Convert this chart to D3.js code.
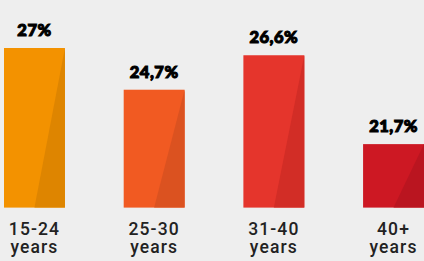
<!DOCTYPE html>
<html>
<head>
<meta charset="utf-8">
<script src="https://cdn.jsdelivr.net/npm/d3@7"></script>
<style>
  body { margin: 0; background: #eeeeee; }
  svg { display: block; }
</style>
</head>
<body>
<div id="chart"></div>
<script>
// chart data
var ageGroups = ["15-24", "25-30", "31-40", "40+"];
var shares = [27, 24.7, 26.6, 21.7];
var shareLabels = ["27%", "24,7%", "26,6%", "21,7%"];
var barColors = ["#f39200", "#f15a22", "#e5352c", "#cd1823"];
var shadeColors = ["#de8500", "#db5220", "#d22d26", "#ba1520"];

var svgWidth = 424;
var svgHeight = 261;
var baseline = 207.6;

var svg = d3.select("#chart")
  .append("svg")
  .attr("width", svgWidth)
  .attr("height", svgHeight);

var x = d3.scaleBand()
  .domain(ageGroups)
  .range([4, 424])
  .paddingInner(0.491)
  .paddingOuter(0);

// bars don't start at zero in the original, so the scale starts near 18
var y = d3.scaleLinear()
  .domain([18.2, 27])
  .range([baseline, 48]);

var bars = svg.selectAll("g.bar")
  .data(ageGroups)
  .enter()
  .append("g")
  .attr("class", "bar");

bars.append("rect")
  .attr("x", d => x(d))
  .attr("y", (d, i) => y(shares[i]))
  .attr("width", x.bandwidth())
  .attr("height", (d, i) => baseline - y(shares[i]))
  .attr("fill", (d, i) => barColors[i]);

// darker triangle on the right side of each bar
bars.append("path")
  .attr("d", function(d, i) {
    var x0 = x(d), w = x.bandwidth(), top = y(shares[i]);
    return "M" + (x0 + w) + "," + top +
      "L" + (x0 + w) + "," + baseline +
      "L" + (x0 + w / 2) + "," + baseline + "Z";
  })
  .attr("fill", (d, i) => shadeColors[i]);

// value labels (heavy display type)
bars.append("text")
  .attr("x", d => x(d) + x.bandwidth() / 2)
  .attr("y", (d, i) => y(shares[i]) - 12)
  .attr("text-anchor", "middle")
  .attr("font-family", "Lato, 'DejaVu Sans', sans-serif")
  .attr("font-weight", 900)
  .attr("font-size", "16.5px")
  .attr("letter-spacing", "0.5px")
  .attr("fill", "#000")
  .attr("stroke", "#000")
  .attr("stroke-width", 1.1)
  .text((d, i) => shareLabels[i]);

// category labels
var cat = bars.append("text")
  .attr("text-anchor", "middle")
  .attr("font-family", "Roboto, sans-serif")
  .attr("font-weight", 500)
  .attr("font-size", "17.5px")
  .attr("letter-spacing", "1.1px")
  .attr("fill", "#222");

cat.append("tspan")
  .attr("x", d => x(d) + x.bandwidth() / 2)
  .attr("y", 235)
  .text(d => d);

cat.append("tspan")
  .attr("x", d => x(d) + x.bandwidth() / 2)
  .attr("y", 253)
  .text("years");
</script>
</body>
</html>
